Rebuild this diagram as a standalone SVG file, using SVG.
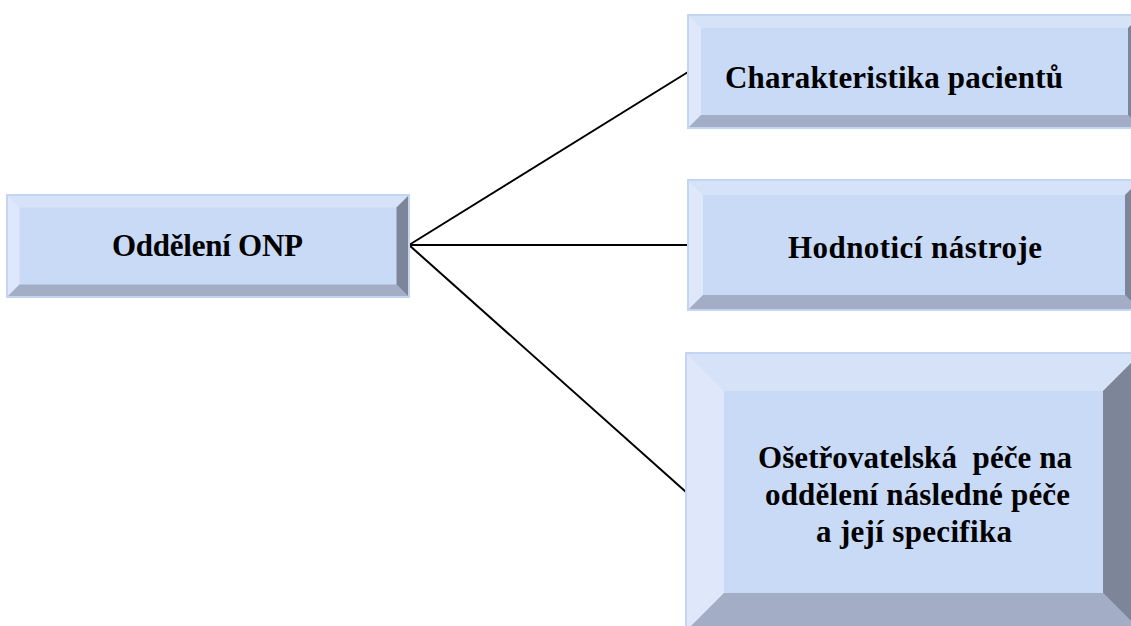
<svg xmlns="http://www.w3.org/2000/svg" width="1131" height="626" viewBox="0 0 1131 626">
<style>
.face{fill:#C9DAF6;}
.tb{fill:#D6E2F8;}
.lb{fill:#DFE8FA;}
.bb{fill:#A3AEC6;}
.rb{fill:#7D8599;}
.edge{fill:none;stroke:#C3D5F2;stroke-width:2;}
.lbl{font-family:"Liberation Serif","Times New Roman",serif;font-weight:bold;font-size:31px;fill:#000;}
.conn{stroke:#000;stroke-width:2;fill:none;}
</style>
<rect width="1131" height="626" fill="#fff"/>
<g id="connectors">
<line class="conn" x1="409" y1="245" x2="688" y2="72"/>
<line class="conn" x1="409" y1="245" x2="688" y2="245"/>
<line class="conn" x1="409" y1="245" x2="686" y2="492"/>
</g>
<g id="node-onp">
<rect class="face" x="7" y="195" width="402" height="102"/>
<polygon class="tb" points="7,195 409,195 396.5,207.5 19.5,207.5"/>
<polygon class="lb" points="7,195 19.5,207.5 19.5,284.5 7,297"/>
<polygon class="bb" points="7,297 19.5,284.5 396.5,284.5 409,297"/>
<polygon class="rb" points="409,195 409,297 396.5,284.5 396.5,207.5"/>
<rect class="edge" x="7" y="195" width="402" height="102"/>
<text class="lbl" x="112" y="256" textLength="191" lengthAdjust="spacing">Oddělení ONP</text>
</g>
<g id="node-charakteristika">
<rect class="face" x="688" y="15" width="453" height="113"/>
<polygon class="tb" points="688,15 1141,15 1128,28 701,28"/>
<polygon class="lb" points="688,15 701,28 701,115 688,128"/>
<polygon class="bb" points="688,128 701,115 1128,115 1141,128"/>
<polygon class="rb" points="1141,15 1141,128 1128,115 1128,28"/>
<rect class="edge" x="688" y="15" width="453" height="113"/>
<text class="lbl" x="725" y="88" textLength="338" lengthAdjust="spacing">Charakteristika pacientů</text>
</g>
<g id="node-hodnotici">
<rect class="face" x="688" y="180" width="452" height="130"/>
<polygon class="tb" points="688,180 1140,180 1125,195 703,195"/>
<polygon class="lb" points="688,180 703,195 703,295 688,310"/>
<polygon class="bb" points="688,310 703,295 1125,295 1140,310"/>
<polygon class="rb" points="1140,180 1140,310 1125,295 1125,195"/>
<rect class="edge" x="688" y="180" width="452" height="130"/>
<text class="lbl" x="788" y="258" textLength="254" lengthAdjust="spacing">Hodnoticí nástroje</text>
</g>
<g id="node-osetrovatelska">
<rect class="face" x="686" y="353" width="455" height="278"/>
<polygon class="tb" points="686,353 1141,353 1103,391 724,391"/>
<polygon class="lb" points="686,353 724,391 724,593 686,631"/>
<polygon class="bb" points="686,631 724,593 1103,593 1141,631"/>
<polygon class="rb" points="1141,353 1141,631 1103,593 1103,391"/>
<rect class="edge" x="686" y="353" width="455" height="278"/>
<text class="lbl" x="758" y="468" textLength="314" lengthAdjust="spacing" xml:space="preserve">Ošetřovatelská  péče na</text>
<text class="lbl" x="765" y="505" textLength="305" lengthAdjust="spacing">oddělení následné péče</text>
<text class="lbl" x="816" y="542" textLength="196" lengthAdjust="spacing">a její specifika</text>
</g>
</svg>
